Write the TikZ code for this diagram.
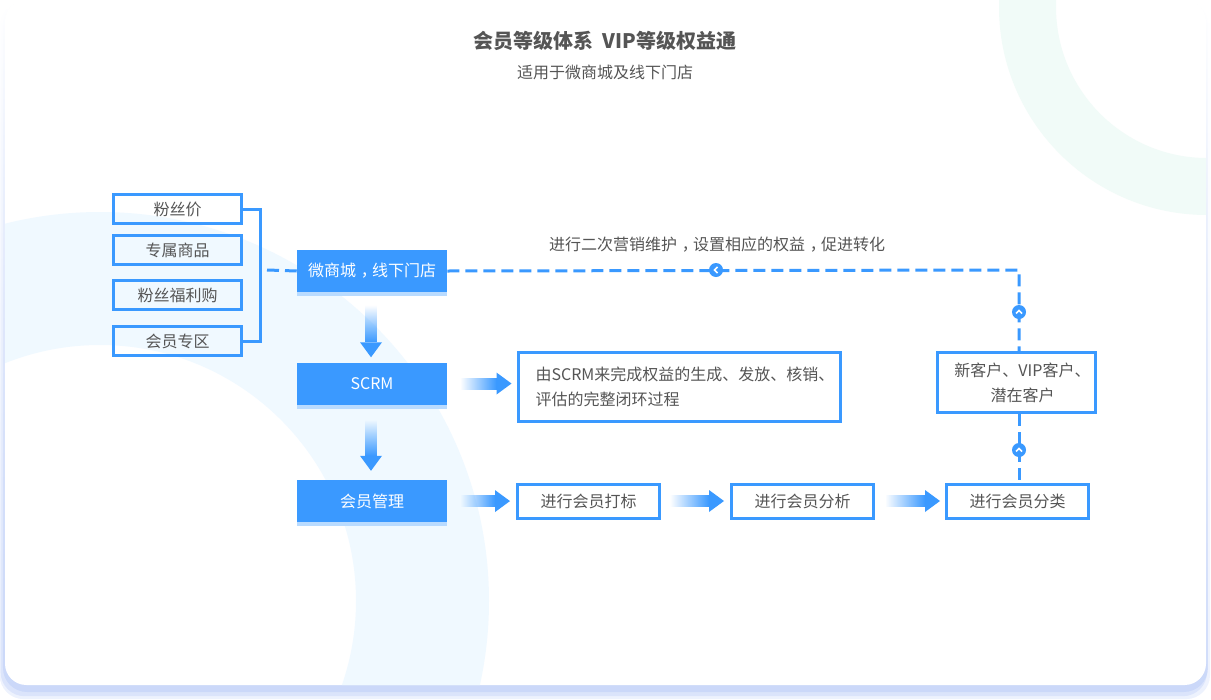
\documentclass[tikz,border=0pt]{standalone}
\usepackage{fontspec}
\setmainfont{Noto Sans CJK SC}
\usetikzlibrary{arrows.meta, positioning, calc, shadows, fadings}
\definecolor{linkblue}{HTML}{3A99FF}
\definecolor{boxshade}{HTML}{B9DBFF}
\definecolor{labelgray}{HTML}{555555}
\definecolor{ringblue}{HTML}{F0F9FF}
\definecolor{ringgreen}{HTML}{F1FBF8}
\definecolor{edgeblue}{HTML}{C4D3F8}
\tikzfading[name=edgefade, top color=transparent!100, bottom color=transparent!0]
\newcommand{\midcomma}{\kern.3em，\kern-.3em}

\begin{document}
\begin{tikzpicture}[x=0.75pt, y=-0.75pt,
    linebox/.style={draw=linkblue, line width=2.25pt, fill=white, text=labelgray, font=\fontsize{12}{18.75}\selectfont, inner sep=0pt},
    fanbox/.style={linebox, fill=none, minimum width=96pt, minimum height=21.75pt},
    stepbox/.style={linebox, minimum width=106.5pt, minimum height=25.5pt},
    solidbox/.style={fill=linkblue, text=white, font=\fontsize{12}{18}\selectfont, inner sep=0pt, minimum width=112.5pt, minimum height=31.5pt, general shadow={fill=boxshade, shadow yshift=-3pt}},
    bracket/.style={draw=linkblue, line width=2.25pt},
    dashlink/.style={draw=linkblue, line width=2.25pt, dash pattern=on 9pt off 4.5pt},
    roundmark/.style={circle, fill=linkblue, inner sep=0pt, minimum size=10.5pt},
    chevron/.style={draw=white, line width=1.1pt},
    plaintext/.style={text=labelgray, font=\fontsize{12}{18}\selectfont, inner sep=0pt},
    node distance=52pt]
    \useasboundingbox (0,0) rectangle (1211,700);
    % card and its soft edge
    \foreach \inset/\low/\shade in {0/699/30, 1.5/696/45, 3/692/70} {
        \fill[edgeblue, opacity=0.\shade, path fading=edgefade, rounded corners=18pt] (\inset,0) rectangle (1211-\inset,\low);
    }
    \begin{scope}
        \path[clip, rounded corners=16pt] (5,0) rectangle (1206,685);
        \fill[white] (0,0) rectangle (1211,700);
        \fill[ringblue, even odd rule] (100,601) circle[radius=389] (100,601) circle[radius=256];
        \fill[ringgreen, even odd rule] (1207,7) circle[radius=208] (1207,7) circle[radius=151];
    \end{scope}

    % title
    \node[plaintext, font=\fontsize{15}{18}\selectfont\bfseries] (title) at (605,41) {会员等级体系\ \ VIP等级权益通};
    \node[plaintext] (subtitle) at (605,72) {适用于微商城及线下门店};

    % fan benefits
    \node[fanbox] (fan1) at (177.5,209) {粉丝价};
    \node[fanbox] (fan2) at (177.5,250) {专属商品};
    \node[fanbox] (fan3) at (177.5,295) {粉丝福利购};
    \node[fanbox] (fan4) at (177.5,341) {会员专区};

    % main column
    \node[solidbox] (shop) at (372,271) {微商城\midcomma 线下门店};
    \node[solidbox, below=52.5pt of shop] (scrm) {SCRM};
    \node[solidbox, below=56.25pt of scrm] (member) {会员管理};

    % bottom row and text boxes
    \node[stepbox] (tag) at (588.5,501) {进行会员打标};
    \node[stepbox, right=51.75pt of tag] (analyse) {进行会员分析};
    \node[stepbox, right=52.5pt of analyse] (sort) {进行会员分类};
    \node[linebox, minimum width=241.5pt, minimum height=51.75pt, align=left] (closeloop) at (679,387) {\hspace*{9pt}由SCRM来完成权益的生成、发放、核销、\\\hspace*{9pt}评估的完整闭环过程};
    \node[linebox, minimum width=118.5pt, minimum height=45pt, align=center] (customer) at (1016.5,382.5) {\hspace*{9pt}新客户、VIP客户、\\\hspace*{9pt}潜在客户};
    \node[plaintext] (note) at (717,245) {进行二次营销维护\midcomma 设置相应的权益\midcomma 促进转化};

    % connectors
    \coordinate (fanjoin) at (260,270);
    \coordinate (turn) at (1019,270);
    \draw[bracket] (fan1.east) -| (fanjoin) |- (fan4.east);
    \draw[dashlink] ($(fanjoin)+(7,0)$) -- (shop.west);
    \draw[dashlink] (shop.east) -- (turn) -- (turn |- customer.north);
    \draw[dashlink] (turn |- customer.south) -- (turn |- sort.north);

    % arrows with a fading tail
    \foreach \from/\to/\gapa/\gapb in {shop/scrm/13/5, scrm/member/15/9} {
        \fill[linkblue, path fading=north] ($(\from.south)+(-7,\gapa)$) rectangle ($(\to.north)+(5,-\gapb-15)$);
        \fill[linkblue] ($(\to.north)+(-12,-\gapb-15)$) -- ($(\to.north)+(10,-\gapb-15)$) -- ($(\to.north)+(-1,-\gapb)$) -- cycle;
    }
    \foreach \from/\to/\gapa/\gapb in {scrm/closeloop/13/5, member/tag/13/6, tag/analyse/9/6, analyse/sort/10/5} {
        \fill[linkblue, path fading=west] ($(\from.east)+(\gapa,-6)$) rectangle ($(\from.east -| \to.west)+(-\gapb-15,6)$);
        \fill[linkblue] ($(\from.east -| \to.west)+(-\gapb-15,-11)$) -- ($(\from.east -| \to.west)+(-\gapb-15,11)$) -- ($(\from.east -| \to.west)+(-\gapb,0)$) -- cycle;
    }

    % round markers on the dashed line
    \node[roundmark] (back) at (716,270) {};
    \node[roundmark] (upper) at (1019,312) {};
    \node[roundmark] (lower) at (1019,450) {};
    \draw[chevron] ($(back)+(1.5,-3)$) -- ($(back)+(-1.5,0)$) -- ($(back)+(1.5,3)$);
    \foreach \m in {upper, lower}
        \draw[chevron] ($(\m)+(-3,1.5)$) -- ($(\m)+(0,-1.5)$) -- ($(\m)+(3,1.5)$);
\end{tikzpicture}
\end{document}
